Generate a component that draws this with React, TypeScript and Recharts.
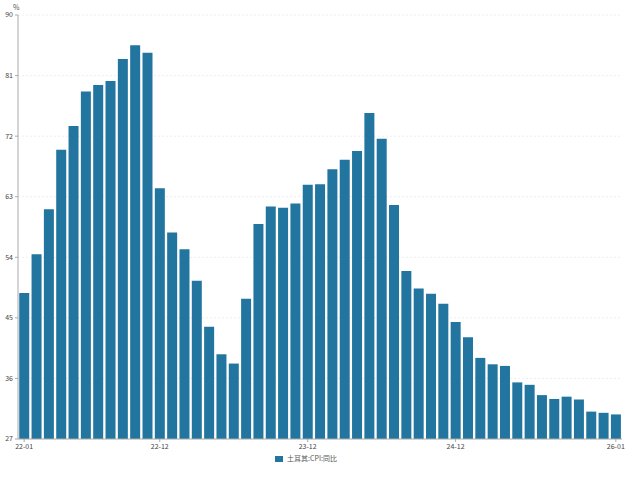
import { BarChart, Bar, XAxis, YAxis, CartesianGrid, Legend } from 'recharts';

const MONTHS = [
  '22-01', '22-02', '22-03', '22-04', '22-05', '22-06', '22-07', '22-08', '22-09', '22-10', '22-11', '22-12',
  '23-01', '23-02', '23-03', '23-04', '23-05', '23-06', '23-07', '23-08', '23-09', '23-10', '23-11', '23-12',
  '24-01', '24-02', '24-03', '24-04', '24-05', '24-06', '24-07', '24-08', '24-09', '24-10', '24-11', '24-12',
  '25-01', '25-02', '25-03', '25-04', '25-05', '25-06', '25-07', '25-08', '25-09', '25-10', '25-11', '25-12',
  '26-01',
];

const CPI_YOY = [
  48.69, 54.44, 61.14, 69.97, 73.5, 78.62, 79.6, 80.21, 83.45, 85.51, 84.39, 64.27,
  57.68, 55.18, 50.51, 43.68, 39.59, 38.21, 47.83, 58.94, 61.53, 61.36, 61.98, 64.77,
  64.86, 67.07, 68.5, 69.8, 75.45, 71.6, 61.78, 51.97, 49.38, 48.58, 47.09, 44.38,
  42.12, 39.05, 38.1, 37.86, 35.41, 35.05, 33.52, 32.95, 33.29, 32.87, 31.07, 30.89,
  30.65,
];

const X_TICKS = ['22-01', '22-12', '23-12', '24-12', '26-01'];
const Y_TICKS = [27, 36, 45, 54, 63, 72, 81, 90];
const SERIES_NAME = '土耳其:CPI:同比';

const data = MONTHS.map((m, i) => ({ month: m, value: CPI_YOY[i] }));

const BAR_COLOR = '#21759f';
const FONT = '"Noto Sans CJK SC", "Noto Sans", sans-serif';

export default function App() {
  return (
    <div style={{ position: 'absolute', left: 0, top: 0, width: 640, height: 483, background: '#fff', fontFamily: FONT }}>
      <div style={{ position: 'absolute', left: 13, top: 2, fontSize: 7, color: '#555' }}>%</div>
      <BarChart
        width={640}
        height={483}
        data={data}
        margin={{ top: 15, right: 18, left: 0, bottom: 10 }}
        barCategoryGap="10%"
      >
        <CartesianGrid vertical={false} stroke="#eeeeee" strokeDasharray="2 2" />
        <XAxis
          dataKey="month"
          ticks={X_TICKS}
          interval={0}
          height={14}
          tick={{ fontSize: 7, fill: '#444' }}
          tickSize={3}
          axisLine={{ stroke: '#aaa' }}
          tickLine={{ stroke: '#aaa' }}
        />
        <YAxis
          domain={[27, 90]}
          ticks={Y_TICKS}
          width={18}
          interval={0}
          tick={{ fontSize: 7, fill: '#444' }}
          tickSize={3}
          axisLine={{ stroke: '#aaa' }}
          tickLine={{ stroke: '#aaa' }}
        />
        <Legend
          verticalAlign="bottom"
          height={20}
          iconSize={8}
          wrapperStyle={{ fontSize: 7 }}
          formatter={(value) => <span style={{ color: '#555' }}>{value}</span>}
          payload={[{ value: SERIES_NAME, type: 'rect', color: BAR_COLOR }]}
        />
        <Bar dataKey="value" name={SERIES_NAME} fill={BAR_COLOR} isAnimationActive={false} />
      </BarChart>
    </div>
  );
}
